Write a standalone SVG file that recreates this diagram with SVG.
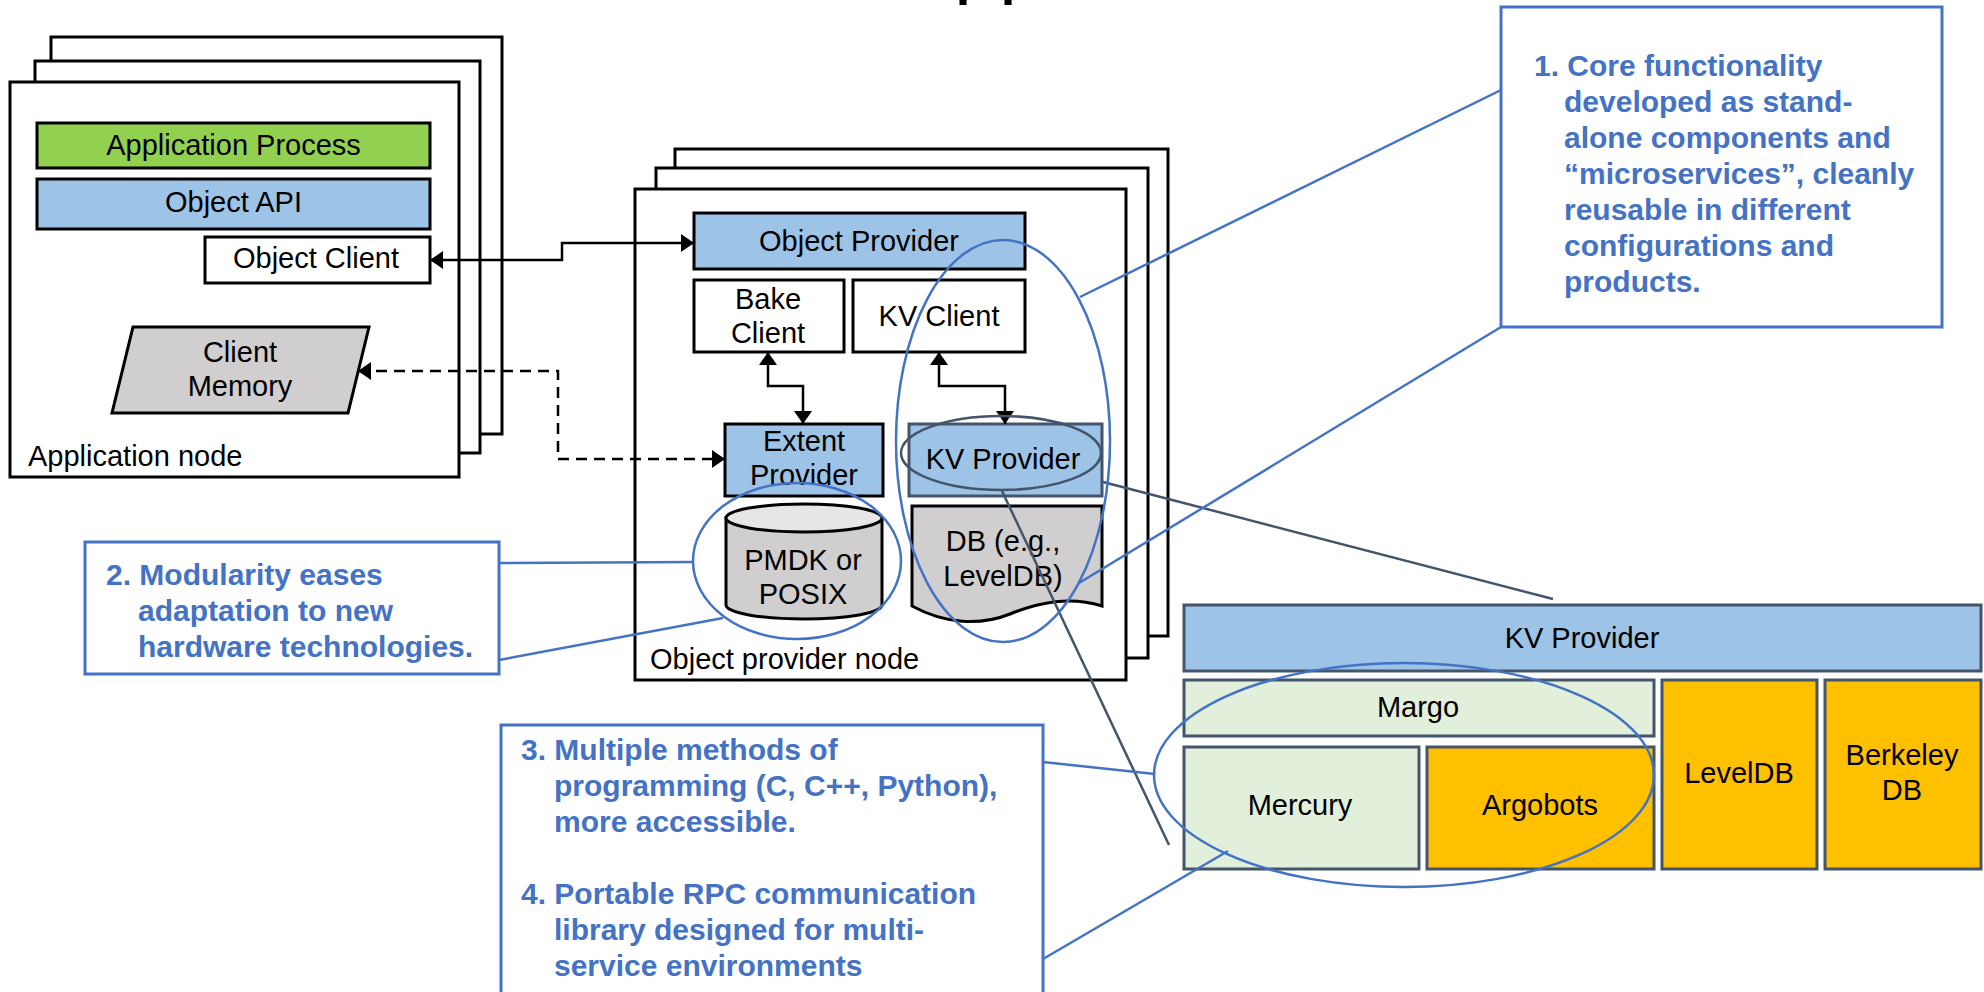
<svg xmlns="http://www.w3.org/2000/svg" width="1984" height="992" viewBox="0 0 1984 992">
<style>
.frame{fill:#fff;stroke:#000;stroke-width:3}
.box{stroke:#000;stroke-width:3}
.sbox{stroke:#44546A;stroke-width:3}
.t{font-family:"Liberation Sans",Arial,Helvetica,sans-serif;font-size:29px;fill:#000}
.c{text-anchor:middle}
.call{font-family:"Liberation Sans",Arial,Helvetica,sans-serif;font-size:30px;font-weight:bold;fill:#4472C4}
.cbox{fill:#fff;stroke:#4472C4;stroke-width:3}
.bl{fill:none;stroke:#4472C4;stroke-width:2.5}
.dl{fill:none;stroke:#44546A;stroke-width:2.5}
.conn{fill:none;stroke:#000;stroke-width:2.5}
.blue{fill:#9DC3E6}
.green{fill:#92D050}
.lgreen{fill:#E2EFDA}
.orange{fill:#FFC000}
.gray{fill:#D0CECE}
</style>
<defs>
<marker id="ah" viewBox="0 0 13 18" refX="13" refY="9" markerWidth="13" markerHeight="18" markerUnits="userSpaceOnUse" orient="auto-start-reverse">
<path d="M0,0 L13,9 L0,18 z" fill="#000"/>
</marker>
</defs>
<rect width="1984" height="992" fill="#fff"/>

<g id="title-fragment">
<text x="954" y="-12" style="font-family:'Liberation Sans',Arial,sans-serif;font-size:81px;fill:#000">pp</text>
</g>

<!-- Application node stack -->
<g id="application-node">
<rect class="frame" x="51" y="37" width="451" height="397"/>
<rect class="frame" x="35" y="61" width="445" height="392"/>
<rect class="frame" x="10" y="82" width="449" height="395"/>
<text class="t" x="28" y="466">Application node</text>
</g>
<g id="application-process">
<rect class="box green" x="37" y="123" width="393" height="45"/>
<text class="t c" x="233.5" y="155">Application Process</text>
</g>
<g id="object-api">
<rect class="box blue" x="37" y="179" width="393" height="50"/>
<text class="t c" x="233.5" y="212">Object API</text>
</g>
<g id="object-client">
<rect class="box" fill="#fff" x="205" y="237" width="225" height="46"/>
<text class="t c" x="316" y="268">Object Client</text>
</g>
<g id="client-memory">
<polygon class="box gray" points="133,327 369,327 348,413 112,413"/>
<text class="t c" x="240" y="362">Client</text>
<text class="t c" x="240" y="396">Memory</text>
</g>

<!-- Object provider node stack -->
<g id="object-provider-node">
<rect class="frame" x="675" y="149" width="493" height="487"/>
<rect class="frame" x="656" y="168" width="492" height="490"/>
<rect class="frame" x="635" y="189" width="491" height="491"/>
<text class="t" x="650" y="669">Object provider node</text>
</g>
<g id="object-provider">
<rect class="box blue" x="694" y="213" width="331" height="56"/>
<text class="t c" x="859" y="251">Object Provider</text>
</g>
<g id="bake-client">
<rect class="box" fill="#fff" x="694" y="280" width="150" height="72"/>
<text class="t c" x="768" y="309">Bake</text>
<text class="t c" x="768" y="343">Client</text>
</g>
<g id="kv-client">
<rect class="box" fill="#fff" x="853" y="280" width="172" height="72"/>
<text class="t c" x="939" y="326">KV Client</text>
</g>
<g id="extent-provider">
<rect class="box blue" x="725" y="424" width="158" height="72"/>
<text class="t c" x="804" y="451">Extent</text>
<text class="t c" x="804" y="485">Provider</text>
</g>
<g id="kv-provider-small">
<rect class="sbox blue" x="909" y="424" width="193" height="72"/>
<text class="t c" x="1003" y="469">KV Provider</text>
</g>
<g id="pmdk-posix">
<path class="box gray" d="M726,518 L726,605 A78,14 0 0 0 882,605 L882,518 Z"/>
<ellipse class="box" fill="#E7E6E6" cx="804" cy="518" rx="78" ry="14"/>
<text class="t c" x="803" y="570">PMDK or</text>
<text class="t c" x="803" y="604">POSIX</text>
</g>
<g id="db-document">
<path class="box gray" d="M912,506 H1102 V606 C1070,596 1040,602 1010,614 C980,626 945,624 912,606 Z"/>
<text class="t c" x="1003" y="551">DB (e.g.,</text>
<text class="t c" x="1003" y="586">LevelDB)</text>
</g>

<!-- KV provider stack (bottom right) -->
<g id="kv-provider-big">
<rect class="sbox blue" x="1184" y="605" width="797" height="66"/>
<text class="t c" x="1582" y="648">KV Provider</text>
</g>
<g id="margo">
<rect class="sbox lgreen" x="1184" y="680" width="470" height="56"/>
<text class="t c" x="1418" y="717">Margo</text>
</g>
<g id="mercury">
<rect class="sbox lgreen" x="1184" y="747" width="235" height="122"/>
<text class="t c" x="1300" y="815">Mercury</text>
</g>
<g id="argobots">
<rect class="sbox orange" x="1427" y="747" width="227" height="122"/>
<text class="t c" x="1540" y="815">Argobots</text>
</g>
<g id="leveldb">
<rect class="sbox orange" x="1662" y="680" width="155" height="189"/>
<text class="t c" x="1739" y="783">LevelDB</text>
</g>
<g id="berkeleydb">
<rect class="sbox orange" x="1825" y="680" width="156" height="189"/>
<text class="t c" x="1902" y="765">Berkeley</text>
<text class="t c" x="1902" y="800">DB</text>
</g>

<!-- Callouts -->
<g id="callout-1">
<rect class="cbox" x="1501" y="7" width="441" height="320"/>
<text class="call" x="1534" y="76">1. Core functionality</text>
<text class="call" x="1564" y="112">developed as stand-</text>
<text class="call" x="1564" y="148">alone components and</text>
<text class="call" x="1564" y="184">“microservices”, cleanly</text>
<text class="call" x="1564" y="220">reusable in different</text>
<text class="call" x="1564" y="256">configurations and</text>
<text class="call" x="1564" y="292">products.</text>
</g>
<g id="callout-2">
<rect class="cbox" x="85" y="542" width="414" height="132"/>
<text class="call" x="106" y="585">2. Modularity eases</text>
<text class="call" x="138" y="621">adaptation to new</text>
<text class="call" x="138" y="657">hardware technologies.</text>
</g>
<g id="callout-3-4">
<rect class="cbox" x="501" y="725" width="542" height="290"/>
<text class="call" x="521" y="760">3. Multiple methods of</text>
<text class="call" x="554" y="796">programming (C, C++, Python),</text>
<text class="call" x="554" y="832">more accessible.</text>
<text class="call" x="521" y="904">4. Portable RPC communication</text>
<text class="call" x="554" y="940">library designed for multi-</text>
<text class="call" x="554" y="976">service environments</text>
</g>

<!-- Connectors -->
<g id="connectors">
<path class="conn" d="M430,260 H562 V243 H694" marker-start="url(#ah)" marker-end="url(#ah)"/>
<path class="conn" d="M358,371 H558 V459 H725" stroke-dasharray="11 7" marker-start="url(#ah)" marker-end="url(#ah)"/>
<path class="conn" d="M768,352 V386 H803 V424" marker-start="url(#ah)" marker-end="url(#ah)"/>
<path class="conn" d="M939,352 V386 H1005 V424" marker-start="url(#ah)" marker-end="url(#ah)"/>

<ellipse class="dl" cx="1001" cy="453" rx="100" ry="37"/>
<path class="dl" d="M1103,482 L1553,599"/>
<path class="dl" d="M1002,491 L1169,845"/>

<ellipse class="bl" cx="1003" cy="441" rx="107" ry="201"/>
<ellipse class="bl" cx="797" cy="561" rx="104" ry="78"/>
<ellipse class="bl" cx="1404" cy="775" rx="250" ry="112"/>

<path class="bl" d="M1080,297 L1501,90"/>
<path class="bl" d="M1079,583 L1501,327"/>
<path class="bl" d="M499,563 L694,562"/>
<path class="bl" d="M499,660 L723,618"/>
<path class="bl" d="M1043,762 L1155,774"/>
<path class="bl" d="M1043,959 L1228,851"/>
</g>
</svg>
